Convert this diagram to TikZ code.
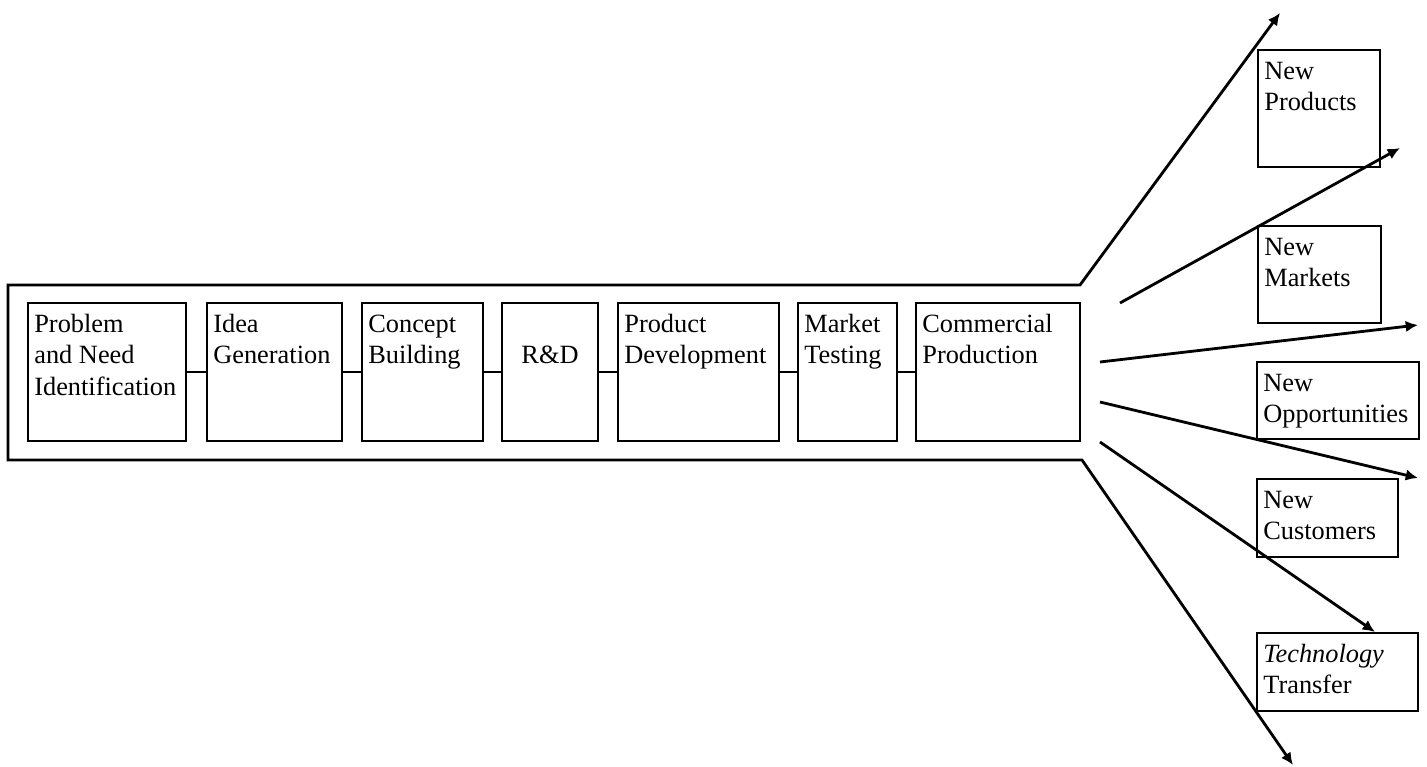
\documentclass[tikz,border=0pt]{standalone}
\usepackage{fontspec}
\setmainfont{Liberation Serif}
\usetikzlibrary{arrows.meta}

\tikzset{
  stage/.style={draw, line width=1.2pt, minimum height=2.76cm, inner sep=0pt},
  outbox/.style={draw, line width=1.2pt, inner sep=0pt},
  txt/.style={anchor=north west, align=left, inner xsep=4pt, inner ysep=4.5pt,
    font=\fontsize{15}{18}\selectfont},
  flow/.style={line width=1.6pt, -{Latex[length=7pt,width=6.5pt]}},
}

\begin{document}
\begin{tikzpicture}[x=0.02cm, y=-0.02cm]
  \useasboundingbox (0,0) rectangle (1427,767);

  % stages inside the frame
  \begin{scope}[every node/.style={stage}]
    \node[minimum width=3.16cm] (b1) at (107,372) {};
    \node[minimum width=2.70cm] (b2) at (274.5,372) {};
    \node[minimum width=2.42cm] (b3) at (422.5,372) {};
    \node[minimum width=1.92cm] (b4) at (550,372) {};
    \node[minimum width=3.22cm] (b5) at (698.5,372) {};
    \node[minimum width=1.98cm] (b6) at (847.5,372) {};
    \node[minimum width=3.28cm] (b7) at (998,372) {};
  \end{scope}
  \node[txt] (t1) at (b1.north west) {\strut Problem\\and Need\\Identification};
  \node[txt] (t2) at (b2.north west) {\strut Idea\\Generation};
  \node[txt] (t3) at (b3.north west) {\strut Concept\\Building};
  \node[txt, anchor=north, align=center] (t4) at (b4.north) {\strut\\R\&D};
  \node[txt] (t5) at (b5.north west) {\strut Product\\Development};
  \node[txt] (t6) at (b6.north west) {\strut Market\\Testing};
  \node[txt] (t7) at (b7.north west) {\strut Commercial\\Production};
  \foreach \a/\b in {b1/b2, b2/b3, b3/b4, b4/b5, b5/b6, b6/b7}
    \draw[line width=1.2pt] (\a) -- (\b);

  % outcomes
  \begin{scope}[every node/.style={outbox}]
    \node[minimum width=2.44cm, minimum height=2.34cm] (np) at (1319,108.5) {};
    \node[minimum width=2.46cm, minimum height=1.94cm] (nm) at (1319.5,274.5) {};
    \node[minimum width=3.24cm, minimum height=1.54cm] (no) at (1338,400.5) {};
    \node[minimum width=2.82cm, minimum height=1.56cm] (nc) at (1327.5,518) {};
    \node[minimum width=3.22cm, minimum height=1.56cm] (tt) at (1337.5,672) {};
  \end{scope}
  \node[txt] (tnp) at (np.north west) {\strut New\\Products};
  \node[txt] (tnm) at (nm.north west) {\strut New\\Markets};
  \node[txt] (tno) at (no.north west) {\strut New\\Opportunities};
  \node[txt] (tnc) at (nc.north west) {\strut New\\Customers};
  \node[txt] (ttt) at (tt.north west) {\strut\textit{Technology}\\Transfer};

  % frame and arrows
  \coordinate (f1) at (1080,285);
  \coordinate (f2) at (8,285);
  \coordinate (f3) at (8,460);
  \coordinate (f4) at (1082,460);
  \coordinate (tipP) at (1280,13);
  \coordinate (tipB) at (1293,765);
  \coordinate (sM) at (1120,303);
  \coordinate (tipM) at (1400,148);
  \coordinate (sO) at (1100,362);
  \coordinate (tipO) at (1418,325);
  \coordinate (sC) at (1100,402);
  \coordinate (tipC) at (1418,478);
  \coordinate (sT) at (1100,442);
  \coordinate (tipT) at (1375,632);

  \draw[flow, {Latex[length=7pt,width=6.5pt]}-{Latex[length=7pt,width=6.5pt]}, line join=miter]
    (tipP) -- (f1) -- (f2) -- (f3) -- (f4) -- (tipB);
  \draw[flow] (sM) -- (tipM);
  \draw[flow] (sO) -- (tipO);
  \draw[flow] (sC) -- (tipC);
  \draw[flow] (sT) -- (tipT);
\end{tikzpicture}
\end{document}
